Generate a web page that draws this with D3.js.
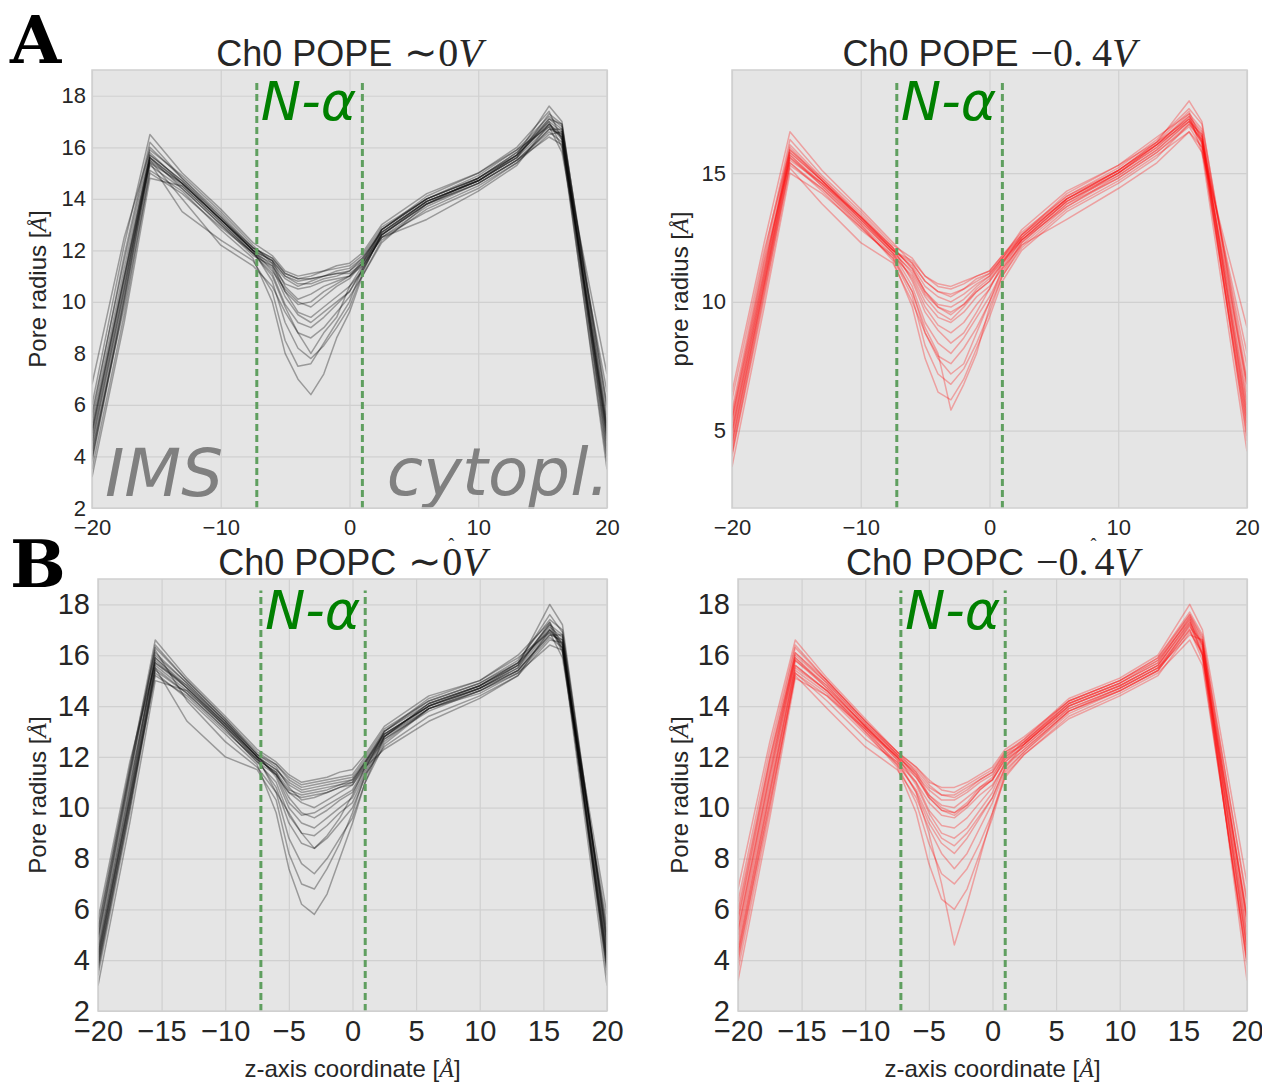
<!DOCTYPE html>
<html>
<head>
<meta charset="utf-8">
<script src="https://cdn.jsdelivr.net/npm/d3@7"></script>
<style>
  body { margin: 0; background: #fff; }
  .tick text { fill: #262626; font-family: "Liberation Sans", Arial, sans-serif; }
</style>
</head>
<body>
<div id="figure"></div>
<script>
// z grid shared by all traces (Å)
var zGrid = [-20, -17.5, -15.5, -13, -10, -7.5, -6, -5, -4, -3, -2, -1, 0, 1, 2.5, 6, 10, 13, 15.5, 16.5, 20];

// Ch0 POPE ~0V
var popeZeroTraces = [
  [4.5, 10.5, 15.6, 14.6, 13.2, 12.0, 11.6, 11.0, 10.8, 10.9, 11.0, 11.1, 11.2, 11.6, 12.7, 13.9, 14.7, 15.7, 16.9, 16.5, 5.0],
  [3.8, 10.0, 15.3, 14.4, 13.0, 11.8, 11.4, 10.7, 10.5, 10.6, 10.8, 10.9, 11.0, 11.4, 12.5, 13.7, 14.6, 15.5, 16.6, 16.2, 4.4],
  [5.5, 11.8, 16.2, 14.8, 13.4, 12.1, 11.7, 11.1, 10.9, 11.0, 11.2, 11.3, 11.4, 11.8, 12.9, 14.0, 14.9, 15.9, 17.2, 16.8, 6.0],
  [6.8, 12.5, 15.9, 14.9, 13.5, 12.2, 11.5, 10.4, 9.6, 9.4, 9.8, 10.2, 10.6, 11.2, 12.6, 13.8, 14.8, 15.8, 17.0, 16.0, 7.2],
  [4.2, 9.8, 15.0, 14.2, 12.9, 11.9, 11.0, 9.8, 8.8, 8.6, 9.0, 9.6, 10.2, 11.0, 12.4, 13.6, 14.5, 15.4, 16.5, 16.6, 4.0],
  [5.0, 11.0, 15.7, 14.7, 13.3, 12.0, 10.8, 9.2, 8.2, 7.8, 8.3, 9.0, 9.8, 11.1, 12.7, 13.9, 14.7, 15.6, 17.1, 16.9, 5.6],
  [3.2, 9.2, 14.8, 14.5, 13.1, 11.9, 11.3, 10.2, 9.5, 9.2, 9.6, 10.0, 10.4, 11.3, 12.8, 14.1, 15.0, 16.0, 17.4, 16.3, 3.5],
  [6.0, 12.2, 16.5, 15.0, 13.6, 12.3, 11.8, 11.2, 11.0, 11.1, 11.2, 11.4, 11.5, 11.9, 13.0, 14.2, 15.0, 15.9, 16.8, 15.8, 6.5],
  [4.8, 10.8, 15.4, 13.5, 12.4, 11.6, 10.4, 8.5, 7.5, 7.6, 8.4, 9.2, 10.0, 11.3, 12.5, 13.5, 14.4, 15.4, 16.7, 16.7, 4.8],
  [5.3, 11.3, 15.8, 14.6, 13.2, 12.0, 11.2, 10.5, 10.0, 9.8, 10.2, 10.6, 10.9, 11.5, 12.8, 14.0, 14.8, 15.7, 17.6, 17.0, 5.2],
  [3.5, 9.5, 15.1, 14.3, 12.8, 11.7, 10.0, 8.0, 7.0, 6.4, 7.2, 8.6, 9.6, 11.0, 12.3, 13.8, 14.6, 15.5, 16.4, 16.1, 3.8],
  [4.0, 10.2, 15.5, 14.0, 12.2, 11.4, 10.6, 9.6, 8.8, 8.0, 8.8, 9.4, 10.6, 11.4, 12.5, 13.2, 14.3, 15.3, 16.9, 16.4, 4.6],
  [4.9, 10.9, 15.7, 14.7, 13.2, 12.0, 11.6, 11.0, 10.7, 10.7, 10.9, 11.0, 11.2, 11.7, 12.8, 14.0, 14.8, 15.8, 17.1, 16.7, 5.3],
  [4.3, 10.4, 15.5, 14.5, 13.1, 11.9, 11.5, 10.9, 10.6, 10.8, 11.0, 11.1, 11.1, 11.5, 12.6, 13.8, 14.7, 15.6, 16.8, 16.4, 4.7],
  [5.7, 11.6, 16.0, 14.8, 13.3, 12.1, 11.6, 10.6, 10.1, 10.3, 10.6, 10.8, 11.0, 11.6, 12.8, 14.0, 14.8, 15.7, 17.0, 16.6, 5.9],
  [3.9, 10.1, 15.4, 14.6, 13.2, 12.0, 11.4, 10.4, 9.9, 10.0, 10.4, 10.7, 11.0, 11.5, 12.6, 13.9, 14.7, 15.6, 17.3, 16.9, 4.2],
  [5.1, 11.0, 15.6, 14.6, 13.2, 12.1, 11.7, 11.1, 10.9, 10.9, 11.0, 11.2, 11.3, 11.7, 12.7, 13.9, 14.7, 15.7, 16.9, 16.3, 5.1],
  [4.6, 10.6, 15.6, 14.4, 13.0, 11.9, 11.1, 9.9, 9.2, 9.0, 9.4, 9.9, 10.4, 11.2, 12.6, 13.8, 14.6, 15.5, 16.7, 16.5, 4.9]
];

// Ch0 POPE -0.4V
var popeMinusTraces = [
  [5.0, 11.0, 15.8, 14.7, 13.3, 12.0, 11.4, 10.6, 10.2, 10.0, 10.3, 10.7, 11.0, 11.6, 12.4, 13.9, 15.0, 16.0, 17.1, 16.4, 6.0],
  [4.2, 10.4, 15.3, 14.4, 13.0, 11.8, 11.0, 10.0, 9.4, 9.2, 9.6, 10.2, 10.6, 11.3, 12.2, 13.7, 14.8, 15.8, 16.8, 16.0, 5.0],
  [5.8, 11.8, 16.3, 14.9, 13.5, 12.2, 11.7, 11.0, 10.6, 10.5, 10.7, 11.0, 11.2, 11.8, 12.7, 14.1, 15.2, 16.3, 17.5, 16.9, 7.0],
  [4.6, 10.7, 15.6, 14.6, 13.1, 11.9, 10.6, 9.2, 8.4, 8.0, 8.6, 9.4, 10.2, 11.2, 12.3, 13.8, 15.0, 16.1, 17.2, 16.6, 5.5],
  [6.2, 12.0, 15.9, 14.8, 13.4, 12.1, 10.8, 9.6, 8.9, 8.4, 8.8, 9.6, 10.5, 11.5, 12.6, 14.0, 15.1, 16.2, 17.4, 16.2, 8.0],
  [3.6, 9.8, 15.0, 14.2, 12.9, 11.7, 10.2, 8.3, 7.2, 6.8, 7.4, 8.4, 9.6, 11.0, 12.1, 13.6, 14.7, 15.7, 16.6, 15.8, 4.2],
  [5.3, 11.2, 16.0, 14.7, 13.2, 12.0, 11.1, 10.2, 9.6, 9.3, 9.8, 10.4, 10.8, 11.5, 12.5, 14.0, 15.1, 16.2, 17.8, 17.0, 6.5],
  [4.9, 10.9, 15.7, 14.5, 13.0, 11.6, 9.8, 7.8, 6.5, 6.2, 7.0, 8.2, 9.4, 10.8, 12.0, 13.5, 14.6, 15.6, 16.9, 16.3, 5.8],
  [5.5, 11.5, 15.5, 14.6, 13.3, 12.1, 11.3, 10.4, 9.9, 9.8, 10.1, 10.6, 11.0, 11.7, 12.6, 14.2, 15.3, 16.4, 17.3, 15.8, 9.0],
  [4.0, 10.1, 15.2, 13.8, 12.3, 11.5, 10.0, 8.8, 7.8, 7.2, 7.6, 8.8, 10.0, 11.3, 12.4, 13.7, 14.9, 15.9, 17.0, 16.5, 4.6],
  [6.5, 12.3, 16.6, 15.1, 13.6, 12.3, 11.5, 10.8, 10.4, 10.2, 10.5, 10.8, 11.1, 11.7, 12.8, 14.3, 15.3, 16.2, 17.1, 16.1, 6.8],
  [4.4, 10.6, 15.4, 14.3, 12.8, 11.8, 10.4, 9.0, 8.0, 5.8, 6.8, 8.0, 9.8, 11.0, 12.2, 13.2, 14.4, 15.4, 16.6, 16.0, 5.2],
  [5.1, 11.1, 15.9, 14.7, 13.2, 12.0, 11.5, 10.8, 10.4, 10.3, 10.5, 10.9, 11.1, 11.7, 12.5, 14.0, 15.0, 16.1, 17.2, 16.5, 6.2],
  [4.5, 10.6, 15.6, 14.5, 13.1, 11.9, 11.2, 10.3, 9.8, 9.6, 9.9, 10.4, 10.8, 11.5, 12.4, 13.9, 14.9, 15.9, 17.0, 16.3, 5.6],
  [5.6, 11.6, 16.1, 14.8, 13.3, 12.1, 11.3, 10.4, 9.8, 9.5, 9.9, 10.5, 10.9, 11.6, 12.5, 14.0, 15.1, 16.1, 17.3, 16.7, 6.8],
  [4.8, 10.8, 15.7, 14.6, 13.2, 11.9, 10.9, 9.8, 9.1, 8.8, 9.2, 9.9, 10.5, 11.4, 12.4, 13.9, 15.0, 16.0, 17.1, 16.4, 7.5],
  [5.4, 11.3, 15.8, 14.7, 13.3, 12.0, 11.6, 11.0, 10.7, 10.6, 10.8, 11.0, 11.2, 11.8, 12.6, 14.1, 15.1, 16.1, 17.0, 16.2, 5.3],
  [4.1, 10.3, 15.4, 14.4, 12.9, 11.7, 10.4, 8.8, 7.9, 7.6, 8.2, 9.0, 10.0, 11.1, 12.3, 13.8, 14.8, 15.8, 16.9, 16.2, 4.8]
];

// Ch0 POPC ~0V
var popcZeroTraces = [
  [4.0, 10.5, 15.9, 14.7, 13.3, 12.0, 11.5, 11.0, 10.7, 10.8, 10.9, 11.0, 11.1, 11.8, 12.9, 14.0, 14.7, 15.5, 17.0, 16.6, 4.2],
  [3.4, 9.8, 15.4, 14.5, 13.1, 11.8, 11.3, 10.6, 10.4, 10.5, 10.6, 10.8, 10.9, 11.6, 12.7, 13.8, 14.6, 15.3, 16.7, 16.3, 3.6],
  [4.8, 11.2, 16.4, 15.0, 13.5, 12.2, 11.7, 11.2, 10.9, 11.0, 11.1, 11.2, 11.3, 12.0, 13.1, 14.2, 14.9, 15.8, 17.4, 17.0, 4.8],
  [5.6, 11.8, 15.7, 14.8, 13.4, 12.1, 11.2, 10.0, 9.4, 9.2, 9.6, 10.0, 10.4, 11.4, 12.8, 14.1, 14.8, 15.6, 17.2, 16.1, 5.8],
  [3.8, 10.2, 15.2, 14.4, 13.0, 11.9, 10.8, 9.4, 8.6, 8.4, 8.8, 9.4, 10.0, 11.2, 12.6, 13.9, 14.6, 15.4, 16.8, 16.8, 3.4],
  [4.4, 10.8, 16.0, 14.9, 13.4, 12.0, 10.6, 8.8, 7.8, 7.4, 8.0, 8.8, 9.6, 11.0, 12.8, 14.1, 14.8, 15.7, 17.6, 16.9, 4.5],
  [3.0, 9.4, 15.0, 14.6, 13.2, 11.9, 11.4, 10.4, 9.8, 9.6, 9.9, 10.3, 10.6, 11.5, 13.0, 14.3, 15.0, 16.0, 17.3, 16.2, 3.0],
  [5.2, 11.5, 16.6, 15.1, 13.6, 12.3, 11.8, 11.3, 11.0, 11.1, 11.2, 11.4, 11.5, 12.1, 13.2, 14.4, 15.0, 15.9, 16.9, 15.9, 5.4],
  [4.2, 10.4, 15.5, 13.4, 12.0, 11.5, 10.3, 8.2, 7.0, 6.8, 7.6, 8.6, 9.8, 11.3, 12.4, 13.6, 14.4, 15.2, 16.6, 16.5, 4.0],
  [4.6, 11.0, 15.8, 14.7, 13.3, 12.0, 11.3, 10.6, 10.2, 10.0, 10.3, 10.6, 10.9, 11.7, 12.9, 14.0, 14.8, 15.6, 18.0, 17.2, 4.6],
  [3.6, 10.0, 15.3, 14.3, 12.9, 11.7, 9.8, 7.6, 6.2, 5.8, 6.6, 8.0, 9.4, 11.0, 12.5, 13.9, 14.5, 15.3, 16.4, 16.2, 3.8],
  [5.0, 11.4, 16.2, 14.2, 12.6, 11.6, 10.6, 9.8, 9.0, 8.4, 8.9, 9.6, 10.5, 11.6, 12.3, 13.4, 14.3, 15.2, 17.0, 16.4, 5.0],
  [4.3, 10.7, 15.9, 14.8, 13.3, 12.0, 11.5, 10.9, 10.6, 10.7, 10.8, 10.9, 11.1, 11.8, 12.9, 14.0, 14.7, 15.6, 17.1, 16.7, 4.3],
  [3.7, 10.0, 15.6, 14.6, 13.2, 11.9, 11.4, 10.7, 10.5, 10.6, 10.7, 10.9, 11.0, 11.7, 12.8, 13.9, 14.7, 15.4, 16.9, 16.5, 3.9],
  [4.9, 11.3, 16.1, 14.9, 13.4, 12.1, 11.6, 10.8, 10.3, 10.4, 10.6, 10.8, 11.0, 11.8, 13.0, 14.1, 14.8, 15.7, 17.2, 16.8, 4.7],
  [4.1, 10.4, 15.7, 14.7, 13.2, 12.0, 11.3, 10.2, 9.7, 9.8, 10.1, 10.4, 10.7, 11.6, 12.8, 14.0, 14.7, 15.5, 17.3, 16.4, 4.1],
  [5.3, 11.6, 16.3, 15.0, 13.5, 12.1, 11.7, 11.1, 10.8, 10.9, 11.0, 11.1, 11.2, 11.9, 13.0, 14.2, 14.9, 15.7, 17.0, 16.3, 5.1],
  [3.9, 10.2, 15.5, 14.5, 13.1, 11.8, 11.0, 9.7, 9.0, 8.9, 9.3, 9.8, 10.2, 11.3, 12.7, 13.9, 14.6, 15.4, 16.8, 16.6, 3.7]
];

// Ch0 POPC -0.4V
var popcMinusTraces = [
  [5.0, 11.2, 15.8, 14.8, 13.2, 12.0, 11.3, 10.7, 10.3, 10.3, 10.6, 11.0, 11.3, 12.0, 12.5, 14.0, 14.8, 15.6, 17.3, 16.2, 5.0],
  [4.0, 10.4, 15.4, 14.5, 13.0, 11.8, 11.0, 10.2, 9.7, 9.6, 10.0, 10.5, 10.9, 11.7, 12.3, 13.8, 14.6, 15.4, 17.0, 15.8, 4.0],
  [6.0, 12.0, 16.3, 15.0, 13.4, 12.2, 11.6, 11.0, 10.8, 10.8, 11.0, 11.3, 11.6, 12.3, 12.8, 14.2, 15.0, 15.9, 17.7, 16.8, 6.2],
  [5.5, 11.6, 15.9, 14.7, 13.2, 11.9, 10.6, 9.4, 8.6, 8.2, 8.8, 9.6, 10.4, 11.6, 12.5, 14.1, 14.9, 15.7, 17.5, 16.4, 5.5],
  [3.2, 9.6, 15.1, 14.4, 13.1, 12.0, 10.9, 9.8, 9.0, 8.8, 9.2, 9.9, 10.6, 11.8, 12.4, 13.9, 14.7, 15.5, 16.8, 16.6, 3.2],
  [4.6, 10.8, 15.6, 14.6, 13.1, 11.7, 10.2, 8.6, 7.4, 7.0, 7.6, 8.6, 9.8, 11.4, 12.2, 13.7, 14.6, 15.4, 17.2, 16.0, 4.6],
  [6.8, 12.6, 16.6, 15.1, 13.5, 12.2, 11.4, 10.5, 10.0, 9.8, 10.2, 10.8, 11.2, 12.1, 12.7, 14.3, 15.1, 16.0, 18.0, 17.0, 7.0],
  [4.4, 10.6, 15.5, 14.6, 13.0, 11.6, 9.8, 7.8, 6.4, 6.0, 6.8, 8.2, 9.6, 11.3, 12.1, 13.6, 14.5, 15.3, 16.6, 15.6, 4.2],
  [5.8, 11.9, 16.0, 14.9, 13.3, 12.1, 11.5, 10.9, 10.5, 10.4, 10.7, 11.1, 11.4, 12.2, 12.6, 14.1, 14.9, 15.8, 17.4, 16.0, 5.8],
  [4.2, 10.2, 15.2, 13.9, 12.4, 11.5, 10.4, 9.2, 8.2, 7.6, 8.2, 9.2, 10.2, 11.5, 12.2, 13.8, 14.7, 15.5, 17.1, 16.5, 4.4],
  [5.2, 11.4, 16.1, 15.0, 13.4, 12.1, 11.2, 10.4, 9.9, 9.7, 10.1, 10.7, 11.1, 11.9, 12.6, 14.2, 15.0, 15.8, 17.6, 16.7, 5.6],
  [3.6, 9.9, 15.3, 14.2, 12.7, 11.8, 10.6, 9.0, 7.0, 4.6, 6.2, 8.0, 9.8, 11.2, 12.1, 13.5, 14.4, 15.2, 16.9, 16.1, 3.8],
  [4.8, 11.0, 15.8, 14.7, 13.2, 12.0, 11.4, 10.8, 10.5, 10.5, 10.8, 11.1, 11.4, 12.1, 12.5, 14.0, 14.8, 15.6, 17.4, 16.3, 4.9],
  [4.3, 10.6, 15.6, 14.6, 13.1, 11.9, 11.2, 10.5, 10.1, 10.0, 10.4, 10.8, 11.1, 11.9, 12.4, 13.9, 14.7, 15.5, 17.2, 16.1, 4.5],
  [5.6, 11.8, 16.1, 14.9, 13.3, 12.1, 11.3, 10.4, 9.9, 9.8, 10.1, 10.7, 11.1, 12.0, 12.6, 14.1, 14.9, 15.7, 17.5, 16.5, 5.7],
  [5.2, 11.3, 15.9, 14.8, 13.2, 12.0, 11.0, 9.9, 9.3, 9.2, 9.6, 10.2, 10.8, 11.8, 12.5, 14.0, 14.8, 15.6, 17.3, 16.4, 5.3],
  [6.3, 12.3, 16.4, 15.0, 13.4, 12.2, 11.6, 11.1, 10.7, 10.6, 10.9, 11.2, 11.5, 12.2, 12.7, 14.2, 15.0, 15.9, 17.6, 16.6, 6.4],
  [3.9, 10.1, 15.3, 14.4, 12.9, 11.7, 10.7, 9.6, 8.8, 8.5, 9.0, 9.7, 10.4, 11.6, 12.3, 13.8, 14.6, 15.4, 17.0, 16.0, 3.9]
];

// ticks and the N-alpha helix limits
var xTicksCoarse = [-20, -10, 0, 10, 20];
var xTicksFine = [-20, -15, -10, -5, 0, 5, 10, 15, 20];
var yTicksFull = [2, 4, 6, 8, 10, 12, 14, 16, 18];
var yTicksCoarse = [5, 10, 15];
var helixBounds = [-7.2, 1.0];

var svgWidth = 1262;
var svgHeight = 1082;

var svg = d3.select("#figure")
  .append("svg")
  .attr("width", svgWidth)
  .attr("height", svgHeight);

var sansFont = "'Liberation Sans', Arial, sans-serif";
var serifFont = "'Liberation Serif', 'Times New Roman', serif";

var panels = [
  {id: "a0", left: 92, top: 70, w: 515, h: 438, traces: popeZeroTraces, color: "#000", opacity: 0.33,
   xTicks: xTicksCoarse, yTicks: yTicksFull, tickSize: 22, lipid: "POPE", volt: "zero", ylabel: "Pore radius ", ylabelX: 38, xlabel: false, regions: true},
  {id: "a4", left: 732, top: 70, w: 515, h: 438, traces: popeMinusTraces, color: "#ff0000", opacity: 0.3,
   xTicks: xTicksCoarse, yTicks: yTicksCoarse, tickSize: 22, lipid: "POPE", volt: "minus", ylabel: "pore radius ", ylabelX: 680, xlabel: false, regions: false},
  {id: "b0", left: 98, top: 579, w: 509, h: 432, traces: popcZeroTraces, color: "#000", opacity: 0.33,
   xTicks: xTicksFine, yTicks: yTicksFull, tickSize: 29, lipid: "POPC", volt: "zero", ylabel: "Pore radius ", ylabelX: 38, xlabel: true, regions: false, hat: true},
  {id: "b4", left: 738, top: 579, w: 509, h: 432, traces: popcMinusTraces, color: "#ff0000", opacity: 0.3,
   xTicks: xTicksFine, yTicks: yTicksFull, tickSize: 29, lipid: "POPC", volt: "minus", ylabel: "Pore radius ", ylabelX: 680, xlabel: true, regions: false, hat: true}
];

panels.forEach(drawPanel);

// Panel letters
svg.append("text").attr("x", 10).attr("y", 63)
  .style("font-family", "'DejaVu Serif', serif").style("font-weight", "bold").style("font-size", "66px")
  .attr("fill", "#000").text("A");
svg.append("text").attr("x", 10).attr("y", 587)
  .style("font-family", "'DejaVu Serif', serif").style("font-weight", "bold").style("font-size", "66px")
  .attr("fill", "#000").text("B");

function drawPanel(p) {
  var g = svg.append("g").attr("transform", `translate(${p.left}, ${p.top})`);

  // Step 1: scales
  var x = d3.scaleLinear().domain([-20, 20]).range([0, p.w]);
  var y = d3.scaleLinear().domain([2, 19]).range([p.h, 0]);

  // Step 2: background and grid
  g.append("rect").attr("width", p.w).attr("height", p.h).attr("fill", "#e5e5e5");

  var xGrid = g.append("g")
    .attr("transform", `translate(0, ${p.h})`)
    .call(d3.axisBottom(x).tickValues(p.xTicks).tickSize(-p.h).tickFormat(""));
  var yGrid = g.append("g")
    .call(d3.axisLeft(y).tickValues(p.yTicks).tickSize(-p.w).tickFormat(""));
  [xGrid, yGrid].forEach(function(gr) {
    gr.select(".domain").remove();
    gr.selectAll("line").attr("stroke", "#d0d0d0").attr("stroke-width", 1.2);
  });

  // Step 3: traces
  g.append("clipPath").attr("id", "clip-" + p.id)
    .append("rect").attr("width", p.w).attr("height", p.h);

  var line = d3.line()
    .x(function(d, i) { return x(zGrid[i]); })
    .y(function(d) { return y(d); });

  g.append("g").attr("clip-path", `url(#clip-${p.id})`)
    .selectAll("path")
    .data(p.traces)
    .enter()
    .append("path")
    .attr("d", line)
    .attr("fill", "none")
    .attr("stroke", p.color)
    .attr("stroke-opacity", p.opacity)
    .attr("stroke-width", 1.5)
    .attr("stroke-linejoin", "round");

  // Step 4: N-alpha helix markers
  g.selectAll(".helix")
    .data(helixBounds)
    .enter()
    .append("line")
    .attr("x1", d => x(d)).attr("x2", d => x(d))
    .attr("y1", y(2)).attr("y2", y(18.55))
    .attr("stroke", "#5f9f5f")
    .attr("stroke-width", 3)
    .attr("stroke-dasharray", "7,4");

  g.append("text")
    .attr("x", x(helixBounds[0]) + 4)
    .attr("y", y(17.05))
    .style("font-family", "'DejaVu Sans', sans-serif")
    .style("font-style", "italic")
    .style("font-size", "54px")
    .attr("fill", "#008000")
    .text("N-α");

  if (p.regions) {
    g.append("text").attr("x", x(-19.0)).attr("y", y(2.45))
      .style("font-family", "'DejaVu Sans', sans-serif").style("font-style", "italic").style("font-size", "66px")
      .attr("fill", "#808080").text("IMS");
    g.append("text").attr("x", x(20.2)).attr("y", y(2.5)).attr("text-anchor", "end")
      .style("font-family", "'DejaVu Sans', sans-serif").style("font-style", "italic").style("font-size", "66px")
      .attr("fill", "#808080").text("cytopl.");
  }

  // Step 5: frame
  g.append("rect").attr("width", p.w).attr("height", p.h)
    .attr("fill", "none").attr("stroke", "#d0d0d0").attr("stroke-width", 1.5);

  // Step 6: tick labels
  var bottomAxis = d3.axisBottom(x).tickValues(p.xTicks).tickSize(0)
    .tickPadding(p.tickSize > 25 ? 9 : 11).tickFormat(d3.format("d"));
  var leftAxis = d3.axisLeft(y).tickValues(p.yTicks).tickSize(0)
    .tickPadding(p.tickSize > 25 ? 8 : 6).tickFormat(d3.format("d"));

  var xa = g.append("g").attr("transform", `translate(0, ${p.h})`).call(bottomAxis);
  var ya = g.append("g").call(leftAxis);
  [xa, ya].forEach(function(a) {
    a.select(".domain").remove();
    a.selectAll("text").style("font-size", p.tickSize + "px");
  });

  // Step 7: title
  var title = g.append("text")
    .attr("x", p.w / 2)
    .attr("y", -4)
    .attr("text-anchor", "middle")
    .attr("fill", "#262626")
    .style("font-family", sansFont)
    .style("font-size", "36px");
  title.append("tspan").text("Ch0 " + p.lipid);
  if (p.volt === "zero") {
    title.append("tspan").attr("dx", 12).style("font-family", serifFont).style("font-size", "40px").text("∼0");
    if (p.hat) {
      title.append("tspan").attr("dx", -14).attr("dy", -24).style("font-family", serifFont).style("font-size", "18px").text("ˆ");
      title.append("tspan").attr("dx", 8).attr("dy", 24).style("font-family", serifFont).style("font-size", "40px").style("font-style", "italic").text("V");
    } else {
      title.append("tspan").style("font-family", serifFont).style("font-size", "40px").style("font-style", "italic").text("V");
    }
  } else {
    title.append("tspan").attr("dx", 12).style("font-family", serifFont).style("font-size", "40px").text("−0.");
    if (p.hat) {
      title.append("tspan").attr("dx", 2).attr("dy", -24).style("font-family", serifFont).style("font-size", "18px").text("ˆ");
      title.append("tspan").attr("dx", -2).attr("dy", 24).style("font-family", serifFont).style("font-size", "40px").text("4");
    } else {
      title.append("tspan").attr("dx", 9).style("font-family", serifFont).style("font-size", "40px").text("4");
    }
    title.append("tspan").style("font-family", serifFont).style("font-size", "40px").style("font-style", "italic").text("V");
  }

  // Step 8: axis labels
  var yl = g.append("text")
    .attr("transform", `translate(${p.ylabelX - p.left + 8}, ${p.h / 2}) rotate(-90)`)
    .attr("text-anchor", "middle")
    .attr("fill", "#262626")
    .style("font-family", sansFont)
    .style("font-size", "24px");
  yl.append("tspan").text(p.ylabel + "[");
  yl.append("tspan").style("font-family", serifFont).style("font-style", "italic").text("Å");
  yl.append("tspan").text("]");

  if (p.xlabel) {
    var xl = g.append("text")
      .attr("x", p.w / 2)
      .attr("y", p.h + 66)
      .attr("text-anchor", "middle")
      .attr("fill", "#262626")
      .style("font-family", sansFont)
      .style("font-size", "24px");
    xl.append("tspan").text("z-axis coordinate [");
    xl.append("tspan").style("font-family", serifFont).style("font-style", "italic").text("Å");
    xl.append("tspan").text("]");
  }
}
</script>
</body>
</html>
